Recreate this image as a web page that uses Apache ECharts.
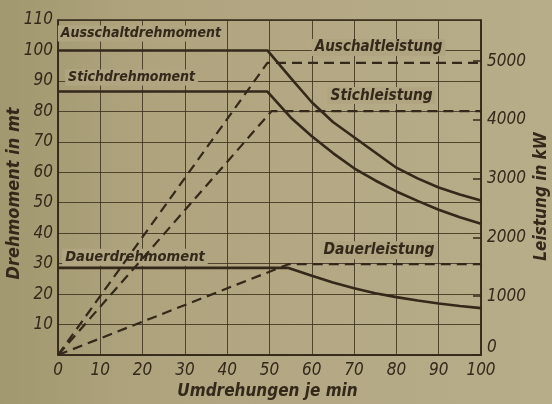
<!DOCTYPE html>
<html><head><meta charset="utf-8">
<script src="https://cdn.jsdelivr.net/npm/echarts@6/dist/echarts.min.js"></script>
<style>
html,body{margin:0;padding:0;}
#c{width:552px;height:404px;background:linear-gradient(90deg,#a2986f 0%,#aea37d 25%,#b4a984 60%,#b7ad89 100%);}
</style>
</head><body><div id="c"></div>
<script>
// ---- data ----
const xTicks = [0,10,20,30,40,50,60,70,80,90,100];
const ausschaltMoment = [[0,100],[49.5,100],[55,91],[60,83],[65,76.5],[70,71.5],[75,66.5],[80,61.5],[85,58],[90,55],[95,52.7],[100,50.7]];
const stichMoment = [[0,86.5],[49.5,86.5],[55,78],[60,71.8],[65,66.3],[70,61.3],[75,57.3],[80,53.7],[85,50.6],[90,47.7],[95,45.2],[100,43.1]];
const dauerMoment = [[0,28.6],[54.5,28.6],[60,26],[65,23.8],[70,21.9],[75,20.3],[80,19],[85,17.9],[90,16.9],[95,16.1],[100,15.4]];
const ausschaltLeistung = [[0,0],[49.5,4970],[100,4970]];
const stichLeistung = [[0,0],[50.5,4150],[100,4150]];
const dauerLeistung = [[0,0],[54.5,1545],[100,1545]];
const curveNames = ['Ausschaltdrehmoment','Stichdrehmoment','Dauerdrehmoment','Auschaltleistung','Stichleistung','Dauerleistung'];

// ---- styling / layout ----
const ink = '#33281a';
const gridC = 'rgba(62,50,30,0.85)';
const bgLab = '#b0a580';
const tickFont = '"Liberation Sans Narrow","DejaVu Sans Condensed","DejaVu Sans",sans-serif';
const labFont = '"DejaVu Sans Condensed","Liberation Sans Narrow",sans-serif';
const labelAnchors = [[19.6,105.6],[17.4,91.1],[18.2,32.1],[75.8,101],[76.5,85.2],[75.9,34.4]];
const labelSizes = [14,14,14.6,15,15.3,15.5];

const chart = echarts.init(document.getElementById('c'), null, {renderer:'canvas'});
const tickLabel = {color:ink, fontSize:17, fontStyle:'italic', fontFamily:tickFont};
const nameStyle = (size, pad) => ({color:ink, fontSize:size, fontStyle:'italic', fontWeight:'bold', fontFamily:labFont, padding:pad});

const torque = (d) => ({type:'line', yAxisIndex:0, data:d, symbol:'none', lineStyle:{color:ink, width:2.6}, z:3});
const power = (d) => ({type:'line', yAxisIndex:1, data:d, symbol:'none', lineStyle:{color:ink, width:2.2, type:[10,6]}, z:3});

chart.setOption({
  animation:false,
  backgroundColor:'transparent',
  grid:{left:58, right:71, top:20, bottom:49, containLabel:false, outerBoundsMode:'none',
        show:true, borderColor:ink, borderWidth:1.5},
  xAxis:{type:'value', min:xTicks[0], max:xTicks[xTicks.length-1], interval:10,
    axisLine:{show:true, lineStyle:{color:ink, width:1.5}}, axisTick:{show:false},
    splitLine:{show:true, lineStyle:{color:gridC, width:1}},
    axisLabel:Object.assign({margin:7}, tickLabel),
    name:'Umdrehungen je min', nameLocation:'middle', nameGap:28, nameMoveOverlap:false,
    nameTextStyle:nameStyle(17,[0,4,0,0])},
  yAxis:[
    {type:'value', min:0, max:110, interval:10, position:'left',
     axisLine:{show:true, lineStyle:{color:ink, width:1.5}}, axisTick:{show:false},
     splitLine:{show:true, lineStyle:{color:gridC, width:1}},
     axisLabel:Object.assign({margin:5, showMinLabel:false}, tickLabel),
     name:'Drehmoment in mt', nameLocation:'middle', nameGap:35, nameRotate:90, nameMoveOverlap:false,
     nameTextStyle:nameStyle(18,[0,12,0,0])},
    {type:'value', min:0, max:5700, interval:1000, position:'right',
     axisLine:{show:true, lineStyle:{color:ink, width:1.5}},
     axisTick:{show:true, inside:true, length:8, lineStyle:{color:ink, width:1.5}},
     splitLine:{show:false},
     axisLabel:Object.assign({margin:6, showMaxLabel:false,
        formatter:(v)=> v===0 ? '{z|0}' : String(v),
        rich:{z:Object.assign({padding:[0,0,14,0]}, tickLabel)}}, tickLabel),
     name:'Leistung in kW', nameLocation:'middle', nameGap:52, nameRotate:90, nameMoveOverlap:false,
     nameTextStyle:nameStyle(17,[0,18,0,0])}
  ],
  series:[
    torque(ausschaltMoment), torque(stichMoment), torque(dauerMoment),
    power(ausschaltLeistung), power(stichLeistung), power(dauerLeistung),
    {type:'scatter', yAxisIndex:0, symbolSize:1, itemStyle:{color:'rgba(0,0,0,0)', opacity:1}, z:2, silent:true,
     data:labelAnchors.map((p,i)=>({value:[p[0],p[1]], name:curveNames[i], label:{fontSize:labelSizes[i]}})),
     label:{show:true, position:'inside', formatter:(p)=>p.name, color:ink, opacity:1, fontSize:15,
       fontStyle:'italic', fontWeight:'bold', fontFamily:labFont, backgroundColor:bgLab, padding:[1,3]},
     labelLayout:{hideOverlap:false}}
  ]
});
</script></body></html>
